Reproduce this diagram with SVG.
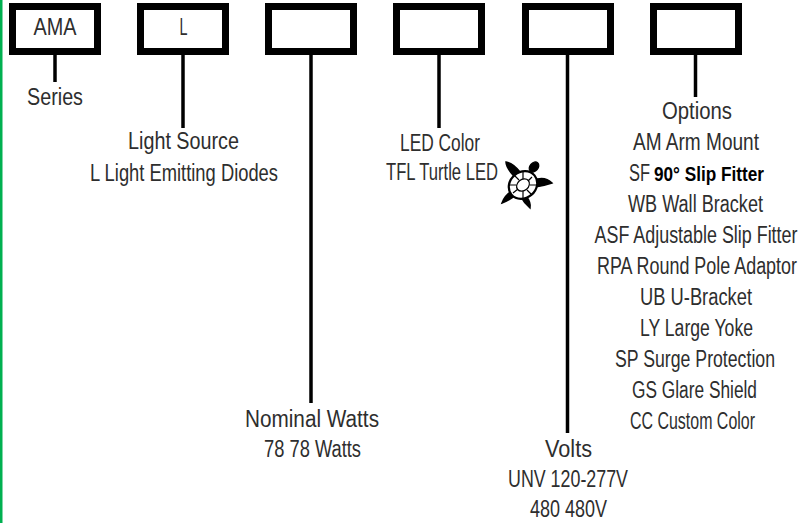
<svg xmlns="http://www.w3.org/2000/svg" width="806" height="523" viewBox="0 0 806 523">
<style>
.box{fill:#fff;stroke:#000;stroke-width:7}
.ln{stroke:#000;stroke-width:3.5;fill:none}
.t{font-family:"Liberation Sans Narrow","Liberation Sans",Arial,sans-serif;font-size:23px;fill:#2e2e2e;text-anchor:middle}
.b{font-family:"Liberation Sans",Arial,sans-serif;font-size:21px;font-weight:bold;fill:#000}
</style>
<rect x="0" y="0" width="806" height="523" fill="#fff"/>
<rect x="0" y="0" width="2.5" height="523" fill="#00b050"/>
<g id="connectors">
<line class="ln" x1="55" y1="54" x2="55" y2="82"/>
<line class="ln" x1="183" y1="54" x2="183" y2="128"/>
<line class="ln" x1="311" y1="54" x2="311" y2="403"/>
<line class="ln" x1="439" y1="54" x2="439" y2="128"/>
<line class="ln" x1="567.5" y1="54" x2="567.5" y2="433"/>
<line class="ln" x1="695.5" y1="54" x2="695.5" y2="97"/>
</g>
<g id="box-series">
<rect class="box" x="12.5" y="6.5" width="85" height="45"/>
<text class="t" x="55" y="35" font-size="21" textLength="43" lengthAdjust="spacingAndGlyphs">AMA</text>
</g>
<g id="box-source">
<rect class="box" x="140.5" y="6.5" width="85" height="45"/>
<text class="t" x="183.5" y="35" font-size="21" textLength="8" lengthAdjust="spacingAndGlyphs">L</text>
</g>
<g id="box-watts"><rect class="box" x="268.5" y="6.5" width="85" height="45"/></g>
<g id="box-color"><rect class="box" x="396.5" y="6.5" width="85" height="45"/></g>
<g id="box-volts"><rect class="box" x="525.5" y="6.5" width="85" height="45"/></g>
<g id="box-options"><rect class="box" x="653.5" y="6.5" width="85" height="45"/></g>
<g id="label-series">
<text class="t" x="55" y="105" textLength="56" lengthAdjust="spacingAndGlyphs">Series</text>
</g>
<g id="label-source">
<text class="t" x="183.5" y="149" textLength="111" lengthAdjust="spacingAndGlyphs">Light Source</text>
<text class="t" x="184" y="181" textLength="188" lengthAdjust="spacingAndGlyphs">L Light Emitting Diodes</text>
</g>
<g id="label-color">
<text class="t" x="440" y="151" textLength="80" lengthAdjust="spacingAndGlyphs">LED Color</text>
<text class="t" x="442" y="180" textLength="112" lengthAdjust="spacingAndGlyphs">TFL Turtle LED</text>
<g id="turtle" stroke="#000" fill="#fff" stroke-width="1.5">
<path d="M513 175 Q506 167 506 162 Q513 163 520 172 Z" fill="#000"/>
<path d="M534 180 Q545 176 552 183 Q543 186 535 187 Z" fill="#000"/>
<path d="M512 191 Q505 195 502 203 Q510 200 516 195 Z" fill="#000"/>
<path d="M526 196 Q531 202 530 208 Q524 203 521 197 Z" fill="#000"/>
<ellipse cx="534" cy="167" rx="4" ry="5.5" transform="rotate(40 534 167)" fill="#000"/>
<ellipse cx="523" cy="185" rx="15" ry="13" transform="rotate(-40 523 185)" stroke-width="2.2"/>
<ellipse cx="523" cy="185" rx="7" ry="5.5" transform="rotate(-40 523 185)" stroke-width="1.2"/>
<path d="M514 175 L519 180 M532 177 L528 181 M532 195 L527 190 M513 193 L518 189 M509 185 L516 185 M537 185 L530 185 M523 171 L523 179 M523 199 L523 191" stroke-width="1.2"/>
</g>
</g>
<g id="label-watts">
<text class="t" x="312" y="427" textLength="134" lengthAdjust="spacingAndGlyphs">Nominal Watts</text>
<text class="t" x="312.5" y="457" textLength="97" lengthAdjust="spacingAndGlyphs">78 78 Watts</text>
</g>
<g id="label-volts">
<text class="t" x="568.5" y="457" textLength="47" lengthAdjust="spacingAndGlyphs">Volts</text>
<text class="t" x="568" y="487" textLength="120" lengthAdjust="spacingAndGlyphs">UNV 120-277V</text>
<text class="t" x="568.5" y="517" textLength="77" lengthAdjust="spacingAndGlyphs">480 480V</text>
</g>
<g id="label-options">
<text class="t" x="697" y="119" textLength="70" lengthAdjust="spacingAndGlyphs">Options</text>
<text class="t" x="696" y="150" textLength="126" lengthAdjust="spacingAndGlyphs">AM Arm Mount</text>
<text class="t" style="text-anchor:start" y="181"><tspan x="629" textLength="21" lengthAdjust="spacingAndGlyphs">SF</tspan><tspan class="b" x="654" textLength="110" lengthAdjust="spacingAndGlyphs">90° Slip Fitter</tspan></text>
<text class="t" x="695.5" y="212" textLength="135" lengthAdjust="spacingAndGlyphs">WB Wall Bracket</text>
<text class="t" x="696" y="243" textLength="203" lengthAdjust="spacingAndGlyphs">ASF Adjustable Slip Fitter</text>
<text class="t" x="697" y="274" textLength="200" lengthAdjust="spacingAndGlyphs">RPA Round Pole Adaptor</text>
<text class="t" x="696" y="305" textLength="112" lengthAdjust="spacingAndGlyphs">UB U-Bracket</text>
<text class="t" x="696.5" y="336" textLength="113" lengthAdjust="spacingAndGlyphs">LY Large Yoke</text>
<text class="t" x="695" y="367" textLength="160" lengthAdjust="spacingAndGlyphs">SP Surge Protection</text>
<text class="t" x="694.5" y="398" textLength="125" lengthAdjust="spacingAndGlyphs">GS Glare Shield</text>
<text class="t" x="692.5" y="429" textLength="125" lengthAdjust="spacingAndGlyphs">CC Custom Color</text>
</g>
</svg>
